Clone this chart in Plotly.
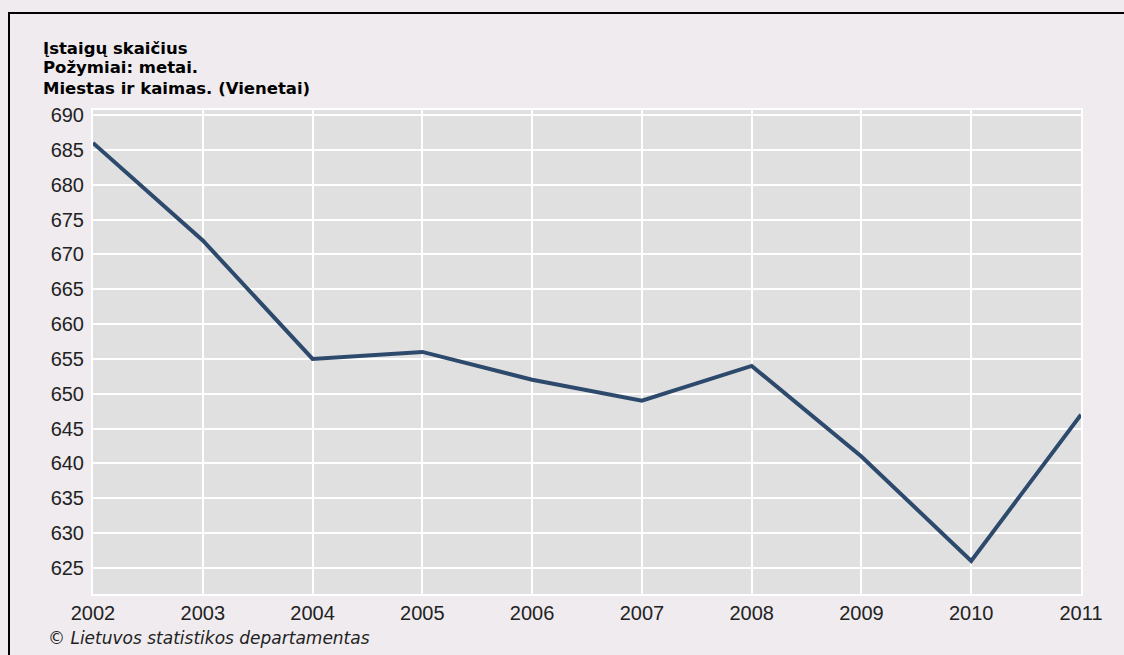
import plotly.graph_objects as go

years = [2002, 2003, 2004, 2005, 2006, 2007, 2008, 2009, 2010, 2011]
values = [686, 672, 655, 656, 652, 649, 654, 641, 626, 647]
y_ticks = list(range(625, 691, 5))
title_lines = ["Įstaigų skaičius", "Požymiai: metai.", "Miestas ir kaimas. (Vienetai)"]
footer = "© Lietuvos statistikos departamentas"

W, H = 1124, 655
ML, MR, MT, MB = 93, 43, 110, 61
PW, PH = W - ML - MR, H - MT - MB

def px(x):
    return (x - ML) / PW

def py(y):
    return (H - MB - y) / PH

fig = go.Figure()
fig.add_trace(go.Scatter(x=years, y=values, mode="lines",
                         line=dict(color="#2D4A6D", width=4), hoverinfo="x+y"))

fig.update_layout(
    width=W, height=H,
    margin=dict(l=ML, r=MR, t=MT, b=MB),
    paper_bgcolor="#EFEBEF",
    plot_bgcolor="#E0E0E0",
    showlegend=False,
    font=dict(family="Liberation Sans, Arial, sans-serif", size=20, color="#222222"),
    xaxis=dict(range=[2002, 2011], tickvals=years, ticktext=[str(y) for y in years],
               showgrid=True, gridcolor="#FFFFFF", gridwidth=2,
               showline=True, linecolor="#FFFFFF", linewidth=2, mirror=True,
               zeroline=False, ticks="", tickfont=dict(size=20, color="#222222")),
    yaxis=dict(range=[621.26, 690.72], tickvals=y_ticks,
               showgrid=True, gridcolor="#FFFFFF", gridwidth=2,
               showline=True, linecolor="#FFFFFF", linewidth=2, mirror=True,
               zeroline=False, ticks="", ticklabelstandoff=3,
               tickfont=dict(size=20, color="#222222")),
)

title_y = [48, 68, 88]
for t, yy in zip(title_lines, title_y):
    fig.add_annotation(x=px(41), y=py(yy), xref="paper", yref="paper",
                       text="<b>" + t + "</b>", showarrow=False,
                       xanchor="left", yanchor="middle",
                       font=dict(family="DejaVu Sans, sans-serif", size=16.5, color="#000000"))

fig.add_annotation(x=px(46), y=py(638), xref="paper", yref="paper",
                   text="<i>" + footer + "</i>", showarrow=False,
                   xanchor="left", yanchor="middle",
                   font=dict(family="DejaVu Sans, sans-serif", size=17, color="#222222"))

# outer frame: top and left black lines
fig.add_shape(type="line", xref="paper", yref="paper",
              x0=px(8), x1=px(W + 5), y0=py(13), y1=py(13),
              line=dict(color="#000000", width=2))
fig.add_shape(type="line", xref="paper", yref="paper",
              x0=px(9), x1=px(9), y0=py(12), y1=py(H + 5),
              line=dict(color="#000000", width=2))

fig.write_html("out.html", config={"displayModeBar": False},
               post_script="document.body.style.margin='0';document.body.style.padding='0';")
